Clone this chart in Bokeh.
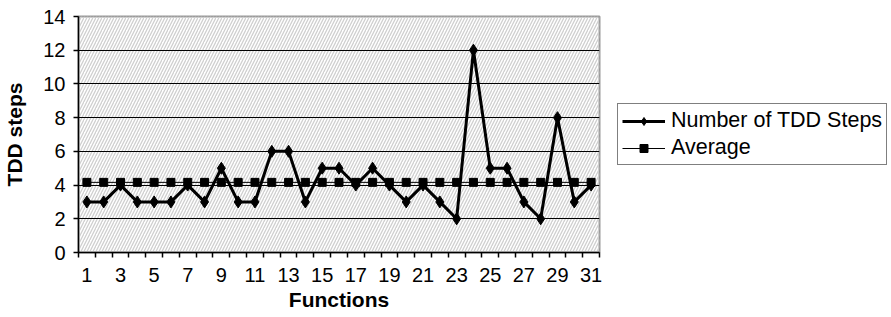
from bokeh.plotting import figure
from bokeh.models import Range1d, FixedTicker, BoxAnnotation, Legend, LegendItem, ColumnDataSource
from bokeh.embed import file_html
from bokeh.resources import INLINE

# ---- data ----
functions = list(range(1, 32))
tdd_steps = [3, 3, 4, 3, 3, 3, 4, 3, 5, 3, 3, 6, 6, 3, 5, 5, 4, 5, 4, 3,
             4, 3, 2, 12, 5, 5, 3, 2, 8, 3, 4]
average_value = 4.16
average_steps = [average_value] * len(functions)
x_tick_values = functions[::2]
x_tick_labels = [str(f) for f in x_tick_values]
y_ticks = [0, 2, 4, 6, 8, 10, 12, 14]
grid_values = [2, 4, 6, 8, 10, 12]

FONT = "Liberation Sans"

src = ColumnDataSource(data=dict(x=functions, steps=tdd_steps, avg=average_steps))

p = figure(frame_width=521, frame_height=236,
           min_border_left=73, min_border_right=281, min_border_top=16, min_border_bottom=60,
           output_backend="svg", toolbar_location=None,
           x_range=Range1d(0.5, len(functions) + 0.5), y_range=Range1d(y_ticks[0], y_ticks[-1]))

p.background_fill_color = "white"
p.border_fill_color = "white"
p.outline_line_color = "#999999"
p.outline_line_width = 2

# hatched plot area
hatch = BoxAnnotation(fill_color=None, line_color=None, hatch_pattern="/",
                      hatch_color="#cfcfcf", hatch_scale=6, hatch_weight=1.3, level="image")
p.add_layout(hatch)

# grid
p.xgrid.visible = False
p.ygrid.ticker = FixedTicker(ticks=grid_values)
p.ygrid.grid_line_color = "black"
p.ygrid.grid_line_width = 1

# series
l1 = p.line("x", "steps", source=src, line_color="black", line_width=3)
s1 = p.scatter("x", "steps", source=src, marker="diamond", size=12,
               fill_color="black", line_color="black")
l2 = p.line("x", "avg", source=src, line_color="black", line_width=1)
s2 = p.scatter("x", "avg", source=src, marker="square", size=8,
               fill_color="black", line_color="black")

# x axis
xa = p.xaxis[0]
minor = [f - 0.5 for f in functions] + [functions[-1] + 0.5]
xa.ticker = FixedTicker(ticks=x_tick_values, minor_ticks=minor)
xa.major_label_overrides = {v: lab for v, lab in zip(x_tick_values, x_tick_labels)}
xa.major_tick_out = 0
xa.major_tick_in = 0
xa.minor_tick_out = 5
xa.minor_tick_in = 0
xa.minor_tick_line_color = "black"
xa.minor_tick_line_width = 1.5
xa.axis_line_color = "black"
xa.axis_line_width = 1.5
xa.major_label_text_font = FONT
xa.major_label_text_font_size = "20px"
xa.major_label_text_color = "black"
xa.major_label_standoff = 10
xa.axis_label = "Functions"
xa.axis_label_text_font = FONT
xa.axis_label_text_font_size = "21px"
xa.axis_label_text_font_style = "bold"
xa.axis_label_text_color = "black"
xa.axis_label_standoff = 3

# y axis
ya = p.yaxis[0]
ya.ticker = FixedTicker(ticks=y_ticks, minor_ticks=[])
ya.major_tick_out = 5
ya.major_tick_in = 0
ya.major_tick_line_color = "black"
ya.major_tick_line_width = 1.5
ya.axis_line_color = "black"
ya.axis_line_width = 1.5
ya.major_label_text_font = FONT
ya.major_label_text_font_size = "20px"
ya.major_label_text_color = "black"
ya.major_label_standoff = 8
ya.axis_label = "TDD steps"
ya.axis_label_text_font = FONT
ya.axis_label_text_font_size = "21px"
ya.axis_label_text_font_style = "bold"
ya.axis_label_text_color = "black"
ya.axis_label_standoff = 14

legend = Legend(items=[LegendItem(label="Number of TDD Steps", renderers=[l1, s1]),
                       LegendItem(label="Average", renderers=[l2, s2])],
                location="center_left", margin=18, padding=4, spacing=2,
                glyph_width=43, glyph_height=20, label_height=20, label_standoff=6,
                label_text_font=FONT, label_text_font_size="21.5px", label_text_color="black",
                border_line_color="black", border_line_width=1,
                background_fill_color="white", background_fill_alpha=1)
p.add_layout(legend, "right")

open("out.html", "w").write(file_html(p, INLINE))
